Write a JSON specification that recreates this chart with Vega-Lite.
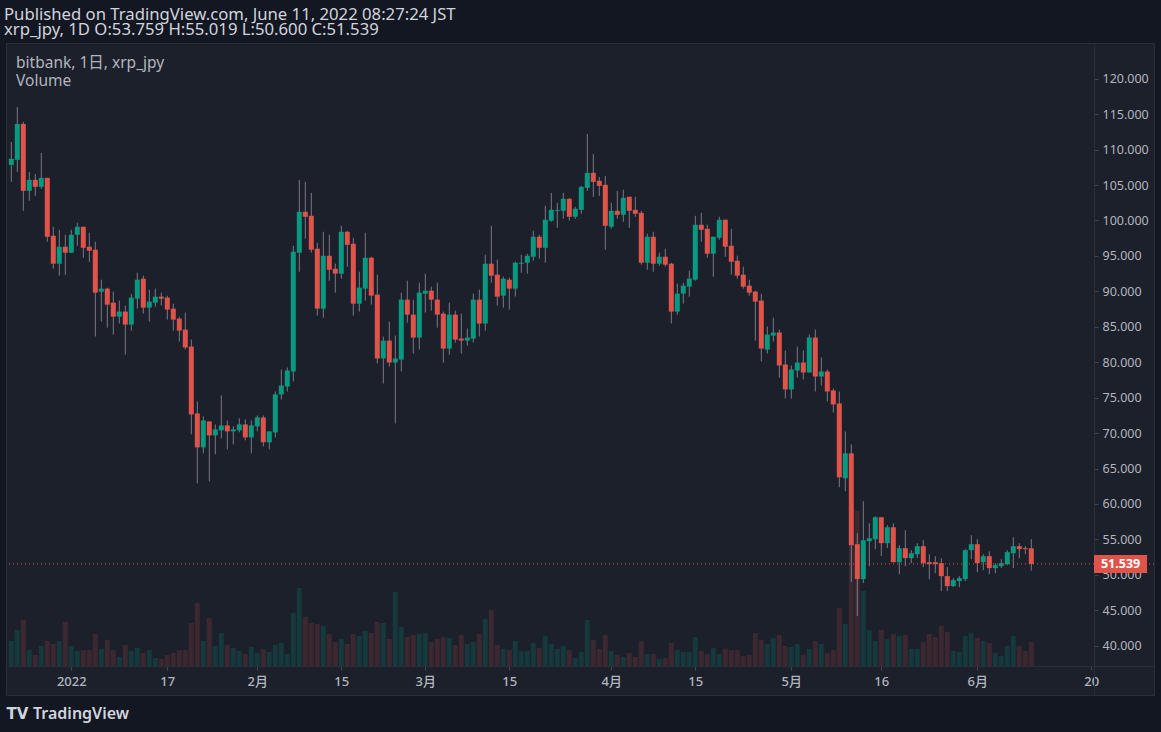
{
  "$schema": "https://vega.github.io/schema/vega-lite/v6.json",
  "autosize": {"type": "none"},
  "width": 1148,
  "height": 652,
  "padding": {"left": 6, "top": 43, "right": 7, "bottom": 37},
  "background": "#131722",
  "view": {"fill": "#1c202b", "stroke": "#2a2e39"},
  "config": {
    "font": "Noto Sans, Noto Sans CJK JP, sans-serif",
    "axis": {"grid": false, "labelColor": "#b2b5be", "labelFontSize": 12.5, "domainColor": "#2a2e39", "tickColor": "#434651", "tickSize": 4, "title": null}
  },
  "title": {
    "text": "Published on TradingView.com, June 11, 2022 08:27:24 JST",
    "subtitle": "xrp_jpy, 1D O:53.759 H:55.019 L:50.600 C:51.539",
    "anchor": "start",
    "frame": "group",
    "dx": -2,
    "offset": 4,
    "fontSize": 16.7,
    "fontWeight": "normal",
    "color": "#d1d4dc",
    "subtitleFontSize": 16.7,
    "subtitleColor": "#d1d4dc",
    "subtitlePadding": -1
  },
  "data": {
    "values": [
      {"d": "2021-12-22", "o": 107.84, "h": 111.08, "l": 105.45, "c": 108.69, "v": 25},
      {"d": "2021-12-23", "o": 108.55, "h": 116.01, "l": 106.86, "c": 113.62, "v": 36},
      {"d": "2021-12-24", "o": 113.62, "h": 113.9, "l": 101.36, "c": 104.18, "v": 46},
      {"d": "2021-12-25", "o": 104.18, "h": 106.86, "l": 102.77, "c": 105.73, "v": 16},
      {"d": "2021-12-26", "o": 105.73, "h": 106.57, "l": 103.48, "c": 104.74, "v": 11},
      {"d": "2021-12-27", "o": 104.74, "h": 109.53, "l": 104.46, "c": 106.01, "v": 20},
      {"d": "2021-12-28", "o": 106.01, "h": 106.01, "l": 97.0, "c": 97.7, "v": 25},
      {"d": "2021-12-29", "o": 97.84, "h": 99.11, "l": 93.19, "c": 93.9, "v": 22},
      {"d": "2021-12-30", "o": 93.9, "h": 98.69, "l": 92.21, "c": 96.29, "v": 25},
      {"d": "2021-12-31", "o": 96.29, "h": 97.98, "l": 92.35, "c": 95.45, "v": 44},
      {"d": "2022-01-01", "o": 95.45, "h": 98.69, "l": 95.45, "c": 97.98, "v": 20},
      {"d": "2022-01-02", "o": 97.98, "h": 99.67, "l": 96.43, "c": 99.11, "v": 15},
      {"d": "2022-01-03", "o": 99.11, "h": 99.11, "l": 94.74, "c": 96.15, "v": 16},
      {"d": "2022-01-04", "o": 96.29, "h": 98.26, "l": 94.18, "c": 95.73, "v": 16},
      {"d": "2022-01-05", "o": 95.87, "h": 97.0, "l": 83.62, "c": 89.81, "v": 32},
      {"d": "2022-01-06", "o": 89.95, "h": 91.64, "l": 85.73, "c": 90.38, "v": 17},
      {"d": "2022-01-07", "o": 90.38, "h": 90.52, "l": 84.88, "c": 88.12, "v": 26},
      {"d": "2022-01-08", "o": 88.4, "h": 89.95, "l": 83.9, "c": 86.43, "v": 16},
      {"d": "2022-01-09", "o": 86.43, "h": 88.69, "l": 85.45, "c": 87.14, "v": 9},
      {"d": "2022-01-10", "o": 87.14, "h": 87.98, "l": 81.08, "c": 85.31, "v": 21},
      {"d": "2022-01-11", "o": 85.31, "h": 89.67, "l": 84.46, "c": 89.11, "v": 15},
      {"d": "2022-01-12", "o": 88.97, "h": 92.63, "l": 87.56, "c": 91.64, "v": 18},
      {"d": "2022-01-13", "o": 91.78, "h": 92.21, "l": 86.86, "c": 87.7, "v": 13},
      {"d": "2022-01-14", "o": 87.7, "h": 90.24, "l": 85.73, "c": 88.55, "v": 16},
      {"d": "2022-01-15", "o": 88.4, "h": 90.38, "l": 87.84, "c": 89.25, "v": 8},
      {"d": "2022-01-16", "o": 89.25, "h": 89.81, "l": 87.98, "c": 88.97, "v": 7},
      {"d": "2022-01-17", "o": 89.11, "h": 89.39, "l": 86.01, "c": 87.42, "v": 11},
      {"d": "2022-01-18", "o": 87.56, "h": 88.26, "l": 84.46, "c": 86.01, "v": 13},
      {"d": "2022-01-19", "o": 86.15, "h": 86.43, "l": 82.91, "c": 84.46, "v": 16},
      {"d": "2022-01-20", "o": 84.6, "h": 87.0, "l": 81.79, "c": 82.07, "v": 16},
      {"d": "2022-01-21", "o": 82.21, "h": 83.19, "l": 69.81, "c": 72.63, "v": 43},
      {"d": "2022-01-22", "o": 72.77, "h": 74.46, "l": 62.91, "c": 67.98, "v": 63},
      {"d": "2022-01-23", "o": 67.98, "h": 72.35, "l": 67.14, "c": 71.78, "v": 25},
      {"d": "2022-01-24", "o": 71.64, "h": 71.64, "l": 63.19, "c": 69.67, "v": 48},
      {"d": "2022-01-25", "o": 69.67, "h": 71.22, "l": 67.0, "c": 70.52, "v": 20},
      {"d": "2022-01-26", "o": 70.38, "h": 75.31, "l": 69.25, "c": 71.08, "v": 33},
      {"d": "2022-01-27", "o": 71.08, "h": 71.78, "l": 67.7, "c": 70.24, "v": 21},
      {"d": "2022-01-28", "o": 70.24, "h": 70.94, "l": 68.41, "c": 70.52, "v": 18},
      {"d": "2022-01-29", "o": 70.38, "h": 72.07, "l": 70.1, "c": 71.22, "v": 15},
      {"d": "2022-01-30", "o": 71.22, "h": 71.92, "l": 68.97, "c": 69.39, "v": 12},
      {"d": "2022-01-31", "o": 69.39, "h": 71.78, "l": 67.14, "c": 71.08, "v": 19},
      {"d": "2022-02-01", "o": 70.94, "h": 72.49, "l": 70.24, "c": 72.21, "v": 13},
      {"d": "2022-02-02", "o": 72.21, "h": 72.49, "l": 68.12, "c": 68.69, "v": 17},
      {"d": "2022-02-03", "o": 68.69, "h": 70.24, "l": 67.7, "c": 70.24, "v": 14},
      {"d": "2022-02-04", "o": 70.09, "h": 75.87, "l": 69.39, "c": 75.45, "v": 21},
      {"d": "2022-02-05", "o": 75.45, "h": 78.97, "l": 74.74, "c": 76.71, "v": 23},
      {"d": "2022-02-06", "o": 76.57, "h": 79.25, "l": 75.87, "c": 78.83, "v": 12},
      {"d": "2022-02-07", "o": 78.69, "h": 96.43, "l": 77.28, "c": 95.59, "v": 53},
      {"d": "2022-02-08", "o": 95.45, "h": 105.73, "l": 92.77, "c": 101.22, "v": 78},
      {"d": "2022-02-09", "o": 101.22, "h": 105.45, "l": 97.42, "c": 100.52, "v": 49},
      {"d": "2022-02-10", "o": 100.66, "h": 103.9, "l": 95.45, "c": 95.87, "v": 43},
      {"d": "2022-02-11", "o": 96.01, "h": 96.85, "l": 86.57, "c": 87.56, "v": 42},
      {"d": "2022-02-12", "o": 87.56, "h": 98.4, "l": 86.29, "c": 95.02, "v": 40},
      {"d": "2022-02-13", "o": 95.02, "h": 97.98, "l": 91.5, "c": 93.05, "v": 32},
      {"d": "2022-02-14", "o": 93.19, "h": 93.9, "l": 89.81, "c": 92.49, "v": 24},
      {"d": "2022-02-15", "o": 92.49, "h": 99.25, "l": 91.78, "c": 98.4, "v": 27},
      {"d": "2022-02-16", "o": 98.4, "h": 98.55, "l": 93.47, "c": 96.57, "v": 22},
      {"d": "2022-02-17", "o": 96.71, "h": 97.56, "l": 86.57, "c": 88.26, "v": 32},
      {"d": "2022-02-18", "o": 88.26, "h": 92.77, "l": 87.14, "c": 90.52, "v": 30},
      {"d": "2022-02-19", "o": 90.38, "h": 98.26, "l": 88.69, "c": 94.74, "v": 35},
      {"d": "2022-02-20", "o": 94.74, "h": 94.88, "l": 88.12, "c": 89.39, "v": 33},
      {"d": "2022-02-21", "o": 89.53, "h": 92.35, "l": 79.81, "c": 80.52, "v": 44},
      {"d": "2022-02-22", "o": 80.52, "h": 83.62, "l": 77.0, "c": 83.05, "v": 43},
      {"d": "2022-02-23", "o": 83.05, "h": 85.73, "l": 79.39, "c": 79.95, "v": 27},
      {"d": "2022-02-24", "o": 79.95, "h": 83.76, "l": 71.36, "c": 80.52, "v": 74},
      {"d": "2022-02-25", "o": 80.38, "h": 89.81, "l": 78.69, "c": 88.83, "v": 39},
      {"d": "2022-02-26", "o": 88.83, "h": 91.5, "l": 85.59, "c": 86.71, "v": 29},
      {"d": "2022-02-27", "o": 86.71, "h": 88.83, "l": 81.22, "c": 83.47, "v": 31},
      {"d": "2022-02-28", "o": 83.47, "h": 91.22, "l": 81.78, "c": 89.81, "v": 32},
      {"d": "2022-03-01", "o": 89.67, "h": 92.49, "l": 87.0, "c": 90.09, "v": 33},
      {"d": "2022-03-02", "o": 90.09, "h": 90.66, "l": 87.28, "c": 88.83, "v": 24},
      {"d": "2022-03-03", "o": 88.83, "h": 91.22, "l": 84.88, "c": 86.71, "v": 27},
      {"d": "2022-03-04", "o": 86.85, "h": 87.14, "l": 79.95, "c": 81.92, "v": 29},
      {"d": "2022-03-05", "o": 81.92, "h": 88.4, "l": 81.08, "c": 86.71, "v": 28},
      {"d": "2022-03-06", "o": 86.71, "h": 87.28, "l": 82.77, "c": 83.19, "v": 21},
      {"d": "2022-03-07", "o": 83.33, "h": 86.85, "l": 81.22, "c": 83.05, "v": 31},
      {"d": "2022-03-08", "o": 83.05, "h": 84.74, "l": 82.35, "c": 83.47, "v": 22},
      {"d": "2022-03-09", "o": 83.33, "h": 89.67, "l": 82.77, "c": 88.83, "v": 24},
      {"d": "2022-03-10", "o": 88.83, "h": 90.24, "l": 83.62, "c": 85.45, "v": 32},
      {"d": "2022-03-11", "o": 85.45, "h": 95.16, "l": 84.46, "c": 93.9, "v": 47},
      {"d": "2022-03-12", "o": 93.9, "h": 99.25, "l": 91.22, "c": 92.21, "v": 56},
      {"d": "2022-03-13", "o": 92.35, "h": 94.46, "l": 87.98, "c": 89.25, "v": 21},
      {"d": "2022-03-14", "o": 89.39, "h": 92.07, "l": 87.7, "c": 91.78, "v": 17},
      {"d": "2022-03-15", "o": 91.64, "h": 91.92, "l": 87.42, "c": 90.38, "v": 16},
      {"d": "2022-03-16", "o": 90.38, "h": 94.18, "l": 89.25, "c": 94.04, "v": 25},
      {"d": "2022-03-17", "o": 93.9, "h": 95.16, "l": 92.63, "c": 94.04, "v": 15},
      {"d": "2022-03-18", "o": 94.04, "h": 95.3, "l": 92.49, "c": 95.02, "v": 15},
      {"d": "2022-03-19", "o": 94.88, "h": 98.55, "l": 94.32, "c": 97.7, "v": 23},
      {"d": "2022-03-20", "o": 97.7, "h": 97.98, "l": 94.6, "c": 96.15, "v": 18},
      {"d": "2022-03-21", "o": 96.15, "h": 102.07, "l": 94.04, "c": 100.1, "v": 30},
      {"d": "2022-03-22", "o": 99.96, "h": 103.9, "l": 99.81, "c": 101.5, "v": 22},
      {"d": "2022-03-23", "o": 101.36, "h": 102.49, "l": 98.97, "c": 101.5, "v": 17},
      {"d": "2022-03-24", "o": 101.36, "h": 103.9, "l": 100.24, "c": 103.05, "v": 20},
      {"d": "2022-03-25", "o": 103.05, "h": 103.19, "l": 99.96, "c": 100.52, "v": 16},
      {"d": "2022-03-26", "o": 100.52, "h": 101.93, "l": 100.24, "c": 101.65, "v": 8},
      {"d": "2022-03-27", "o": 101.5, "h": 104.88, "l": 100.94, "c": 104.74, "v": 14},
      {"d": "2022-03-28", "o": 104.6, "h": 112.21, "l": 104.18, "c": 106.72, "v": 46},
      {"d": "2022-03-29", "o": 106.72, "h": 109.39, "l": 103.34, "c": 105.45, "v": 26},
      {"d": "2022-03-30", "o": 105.59, "h": 106.15, "l": 103.48, "c": 104.88, "v": 17},
      {"d": "2022-03-31", "o": 105.03, "h": 106.29, "l": 95.87, "c": 99.25, "v": 31},
      {"d": "2022-04-01", "o": 99.11, "h": 102.49, "l": 98.83, "c": 101.36, "v": 15},
      {"d": "2022-04-02", "o": 101.36, "h": 104.18, "l": 100.24, "c": 100.8, "v": 11},
      {"d": "2022-04-03", "o": 100.8, "h": 104.32, "l": 99.81, "c": 103.19, "v": 9},
      {"d": "2022-04-04", "o": 103.34, "h": 103.34, "l": 98.97, "c": 101.36, "v": 13},
      {"d": "2022-04-05", "o": 101.5, "h": 103.34, "l": 100.52, "c": 100.94, "v": 9},
      {"d": "2022-04-06", "o": 101.08, "h": 101.36, "l": 93.76, "c": 94.04, "v": 25},
      {"d": "2022-04-07", "o": 94.04, "h": 98.13, "l": 93.05, "c": 97.7, "v": 12},
      {"d": "2022-04-08", "o": 97.7, "h": 98.41, "l": 92.77, "c": 93.9, "v": 12},
      {"d": "2022-04-09", "o": 93.9, "h": 95.45, "l": 93.62, "c": 94.88, "v": 7},
      {"d": "2022-04-10", "o": 94.88, "h": 96.01, "l": 93.48, "c": 93.76, "v": 8},
      {"d": "2022-04-11", "o": 93.9, "h": 94.04, "l": 85.45, "c": 87.14, "v": 23},
      {"d": "2022-04-12", "o": 87.14, "h": 91.08, "l": 86.72, "c": 89.67, "v": 16},
      {"d": "2022-04-13", "o": 89.67, "h": 91.22, "l": 88.27, "c": 90.8, "v": 14},
      {"d": "2022-04-14", "o": 90.66, "h": 92.91, "l": 89.25, "c": 91.79, "v": 14},
      {"d": "2022-04-15", "o": 91.65, "h": 100.66, "l": 91.5, "c": 99.39, "v": 29},
      {"d": "2022-04-16", "o": 99.39, "h": 101.08, "l": 96.99, "c": 98.69, "v": 15},
      {"d": "2022-04-17", "o": 98.83, "h": 99.39, "l": 94.74, "c": 95.31, "v": 12},
      {"d": "2022-04-18", "o": 95.31, "h": 97.7, "l": 92.07, "c": 97.7, "v": 18},
      {"d": "2022-04-19", "o": 97.56, "h": 100.52, "l": 97.28, "c": 100.1, "v": 12},
      {"d": "2022-04-20", "o": 100.1, "h": 100.1, "l": 94.88, "c": 96.29, "v": 17},
      {"d": "2022-04-21", "o": 96.43, "h": 98.83, "l": 92.35, "c": 94.18, "v": 16},
      {"d": "2022-04-22", "o": 94.32, "h": 95.03, "l": 91.79, "c": 92.21, "v": 16},
      {"d": "2022-04-23", "o": 92.35, "h": 93.48, "l": 90.38, "c": 90.66, "v": 10},
      {"d": "2022-04-24", "o": 90.8, "h": 91.65, "l": 89.39, "c": 89.81, "v": 11},
      {"d": "2022-04-25", "o": 89.96, "h": 90.1, "l": 83.05, "c": 88.55, "v": 33},
      {"d": "2022-04-26", "o": 88.69, "h": 89.67, "l": 80.1, "c": 81.93, "v": 26},
      {"d": "2022-04-27", "o": 81.79, "h": 85.03, "l": 81.22, "c": 83.9, "v": 22},
      {"d": "2022-04-28", "o": 83.76, "h": 86.29, "l": 82.91, "c": 84.18, "v": 28},
      {"d": "2022-04-29", "o": 84.18, "h": 84.6, "l": 77.84, "c": 79.53, "v": 31},
      {"d": "2022-04-30", "o": 79.67, "h": 81.65, "l": 74.88, "c": 76.15, "v": 20},
      {"d": "2022-05-01", "o": 76.15, "h": 79.53, "l": 74.88, "c": 78.97, "v": 19},
      {"d": "2022-05-02", "o": 78.83, "h": 82.21, "l": 77.84, "c": 79.95, "v": 22},
      {"d": "2022-05-03", "o": 79.95, "h": 81.65, "l": 77.56, "c": 78.55, "v": 11},
      {"d": "2022-05-04", "o": 78.55, "h": 83.9, "l": 78.55, "c": 83.48, "v": 17},
      {"d": "2022-05-05", "o": 83.48, "h": 84.6, "l": 75.87, "c": 77.98, "v": 25},
      {"d": "2022-05-06", "o": 77.98, "h": 80.66, "l": 76.72, "c": 78.69, "v": 22},
      {"d": "2022-05-07", "o": 78.69, "h": 78.97, "l": 74.46, "c": 75.87, "v": 13},
      {"d": "2022-05-08", "o": 76.01, "h": 76.29, "l": 72.91, "c": 74.04, "v": 16},
      {"d": "2022-05-09", "o": 74.18, "h": 75.87, "l": 62.35, "c": 63.76, "v": 58},
      {"d": "2022-05-10", "o": 63.62, "h": 70.24, "l": 61.79, "c": 67.14, "v": 42},
      {"d": "2022-05-11", "o": 67.14, "h": 68.41, "l": 48.97, "c": 54.18, "v": 121},
      {"d": "2022-05-12", "o": 54.32, "h": 55.87, "l": 44.2, "c": 49.39, "v": 155},
      {"d": "2022-05-13", "o": 49.39, "h": 60.38, "l": 48.83, "c": 54.88, "v": 75},
      {"d": "2022-05-14", "o": 54.74, "h": 57.28, "l": 51.22, "c": 55.16, "v": 36},
      {"d": "2022-05-15", "o": 55.02, "h": 58.27, "l": 53.62, "c": 58.12, "v": 25},
      {"d": "2022-05-16", "o": 58.12, "h": 58.12, "l": 52.63, "c": 54.46, "v": 36},
      {"d": "2022-05-17", "o": 54.46, "h": 57.0, "l": 53.76, "c": 56.71, "v": 27},
      {"d": "2022-05-18", "o": 56.71, "h": 57.28, "l": 51.78, "c": 51.78, "v": 32},
      {"d": "2022-05-19", "o": 51.78, "h": 54.18, "l": 50.09, "c": 53.76, "v": 30},
      {"d": "2022-05-20", "o": 53.76, "h": 56.29, "l": 51.22, "c": 52.35, "v": 31},
      {"d": "2022-05-21", "o": 52.35, "h": 53.48, "l": 51.64, "c": 53.05, "v": 17},
      {"d": "2022-05-22", "o": 52.91, "h": 54.46, "l": 52.35, "c": 54.04, "v": 17},
      {"d": "2022-05-23", "o": 54.04, "h": 54.88, "l": 51.08, "c": 51.64, "v": 24},
      {"d": "2022-05-24", "o": 51.78, "h": 52.91, "l": 49.39, "c": 51.5, "v": 32},
      {"d": "2022-05-25", "o": 51.78, "h": 52.63, "l": 50.23, "c": 51.5, "v": 29},
      {"d": "2022-05-26", "o": 51.64, "h": 52.35, "l": 47.7, "c": 49.81, "v": 40},
      {"d": "2022-05-27", "o": 49.81, "h": 51.08, "l": 47.7, "c": 48.41, "v": 34},
      {"d": "2022-05-28", "o": 48.41, "h": 49.53, "l": 48.27, "c": 49.25, "v": 15},
      {"d": "2022-05-29", "o": 49.11, "h": 49.81, "l": 48.27, "c": 49.53, "v": 14},
      {"d": "2022-05-30", "o": 49.39, "h": 53.62, "l": 49.11, "c": 53.48, "v": 30},
      {"d": "2022-05-31", "o": 53.48, "h": 55.59, "l": 52.21, "c": 54.32, "v": 33},
      {"d": "2022-06-01", "o": 54.32, "h": 55.02, "l": 50.38, "c": 51.64, "v": 28},
      {"d": "2022-06-02", "o": 51.78, "h": 52.91, "l": 50.66, "c": 52.63, "v": 25},
      {"d": "2022-06-03", "o": 52.63, "h": 53.33, "l": 50.09, "c": 50.94, "v": 23},
      {"d": "2022-06-04", "o": 50.94, "h": 51.64, "l": 50.23, "c": 51.36, "v": 13},
      {"d": "2022-06-05", "o": 51.22, "h": 52.21, "l": 50.94, "c": 51.64, "v": 10},
      {"d": "2022-06-06", "o": 51.5, "h": 53.48, "l": 51.36, "c": 53.19, "v": 20},
      {"d": "2022-06-07", "o": 53.05, "h": 55.31, "l": 50.94, "c": 54.04, "v": 30},
      {"d": "2022-06-08", "o": 54.04, "h": 54.46, "l": 52.35, "c": 53.62, "v": 20},
      {"d": "2022-06-09", "o": 53.76, "h": 54.04, "l": 52.91, "c": 53.62, "v": 15},
      {"d": "2022-06-10", "o": 53.759, "h": 55.019, "l": 50.6, "c": 51.539, "v": 24}
    ],
    "format": {"parse": {"d": "utc:'%Y-%m-%d'"}}
  },
  "resolve": {"scale": {"y": "independent"}},
  "layer": [
    {
      "mark": {"type": "bar", "size": 5},
      "encoding": {
        "x": {
          "field": "d", "type": "temporal",
          "scale": {"type": "utc", "nice": false, "padding": 0, "domain": [
            {"year": 2021, "month": 12, "date": 21, "hours": 2, "minutes": 48, "utc": true},
            {"year": 2022, "month": 6, "date": 30, "hours": 10, "minutes": 48, "utc": true}]},
          "axis": {
            "orient": "bottom", "offset": -29, "labelPadding": 5, "labelFontSize": 13, "labelFontWeight": 500,
            "labelOverlap": false, "labelFlush": false,
            "values": [
              {"year": 2022, "month": 1, "date": 1, "utc": true},
              {"year": 2022, "month": 1, "date": 17, "utc": true},
              {"year": 2022, "month": 2, "date": 1, "utc": true},
              {"year": 2022, "month": 2, "date": 15, "utc": true},
              {"year": 2022, "month": 3, "date": 1, "utc": true},
              {"year": 2022, "month": 3, "date": 15, "utc": true},
              {"year": 2022, "month": 4, "date": 1, "utc": true},
              {"year": 2022, "month": 4, "date": 15, "utc": true},
              {"year": 2022, "month": 5, "date": 1, "utc": true},
              {"year": 2022, "month": 5, "date": 16, "utc": true},
              {"year": 2022, "month": 6, "date": 1, "utc": true},
              {"year": 2022, "month": 6, "date": 20, "utc": true}],
            "labelExpr": "utcdate(datum.value) == 1 ? (utcmonth(datum.value) == 0 ? '2022' : (utcmonth(datum.value) + 1) + '月') : '' + utcdate(datum.value)"
          }
        },
        "y": {"field": "v", "type": "quantitative", "scale": {"domain": [-29, 623], "padding": 0}, "axis": null},
        "color": {"condition": {"test": "datum.c >= datum.o", "value": "#15393c"}, "value": "#3c2830"}
      }
    },
    {
      "encoding": {
        "x": {"field": "d", "type": "temporal"}
      },
      "layer": [
        {
          "mark": {"type": "rule", "color": "#787b86", "strokeWidth": 1},
          "encoding": {
            "y": {
              "field": "l", "type": "quantitative",
              "scale": {"domain": [33.04, 125.04], "zero": false, "nice": false, "padding": 0},
              "axis": {
                "orient": "right", "offset": -60, "labelPadding": 4,
                "values": [40, 45, 50, 55, 60, 65, 70, 75, 80, 85, 90, 95, 100, 105, 110, 115, 120],
                "format": ".3f"
              }
            },
            "y2": {"field": "h"}
          }
        },
        {
          "mark": {"type": "bar", "size": 5},
          "encoding": {
            "y": {"field": "o", "type": "quantitative"},
            "y2": {"field": "c"},
            "color": {"condition": {"test": "datum.c >= datum.o", "value": "#089981"}, "value": "#e0534a"}
          }
        },
        {
          "transform": [{"filter": "time(datum.d) == utc(2022, 5, 10)"}],
          "layer": [
            {
              "mark": {"type": "rule", "color": "#e0534a", "strokeDash": [1, 3], "strokeWidth": 1},
              "encoding": {"x": null, "y": {"field": "c", "type": "quantitative"}}
            },
            {
              "mark": {"type": "bar", "orient": "horizontal", "size": 18, "color": "#e0534a"},
              "encoding": {
                "x": {"datum": {"year": 2022, "month": 6, "date": 20, "hours": 10, "minutes": 48, "utc": true}, "type": "temporal"},
                "x2": {"datum": {"year": 2022, "month": 6, "date": 29, "hours": 7, "utc": true}},
                "y": {"field": "c", "type": "quantitative"}
              }
            },
            {
              "mark": {"type": "text", "color": "#ffffff", "fontSize": 12.5, "fontWeight": "bold", "align": "center", "baseline": "middle"},
              "encoding": {
                "x": {"datum": {"year": 2022, "month": 6, "date": 24, "hours": 21, "utc": true}, "type": "temporal"},
                "y": {"field": "c", "type": "quantitative"},
                "text": {"field": "c", "type": "quantitative", "format": ".3f"}
              }
            },
            {
              "mark": {"type": "text", "color": "#b2b5be", "fontSize": 15.5, "align": "left", "baseline": "alphabetic"},
              "encoding": {
                "x": {"datum": {"year": 2021, "month": 12, "date": 22, "hours": 19, "utc": true}, "type": "temporal"},
                "y": {"datum": 121.47, "type": "quantitative"},
                "text": {"value": "bitbank, 1日, xrp_jpy"}
              }
            },
            {
              "mark": {"type": "text", "color": "#b2b5be", "fontSize": 15.5, "align": "left", "baseline": "alphabetic"},
              "encoding": {
                "x": {"datum": {"year": 2021, "month": 12, "date": 22, "hours": 19, "utc": true}, "type": "temporal"},
                "y": {"datum": 119.01, "type": "quantitative"},
                "text": {"value": "Volume"}
              }
            },
            {
              "mark": {"type": "text", "color": "#d1d4dc", "fontSize": 16, "fontWeight": 600, "align": "left", "baseline": "alphabetic"},
              "encoding": {
                "x": {"datum": {"year": 2021, "month": 12, "date": 25, "hours": 15, "utc": true}, "type": "temporal"},
                "y": {"datum": 29.62, "type": "quantitative"},
                "text": {"value": "TradingView"}
              }
            },
            {
              "mark": {"type": "text", "color": "#d1d4dc", "fontSize": 15, "fontWeight": "bold", "align": "left", "baseline": "alphabetic", "font": "DejaVu Sans"},
              "encoding": {
                "x": {"datum": {"year": 2021, "month": 12, "date": 21, "hours": 5, "utc": true}, "type": "temporal"},
                "y": {"datum": 29.62, "type": "quantitative"},
                "text": {"value": "TV"}
              }
            }
          ]
        }
      ]
    }
  ]
}
